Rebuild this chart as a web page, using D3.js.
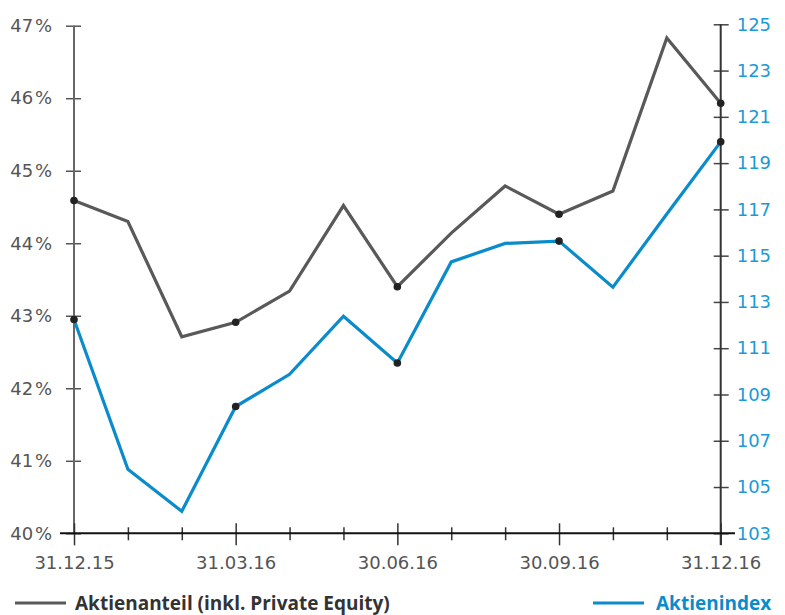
<!DOCTYPE html>
<html>
<head>
<meta charset="utf-8">
<script src="https://cdn.jsdelivr.net/npm/d3@7"></script>
<style>
  body { margin: 0; background: #fff; }
  text { font-family: "DejaVu Sans", sans-serif; }
  .legendText { font-family: "Open Sans", "Noto Sans", sans-serif; }
</style>
</head>
<body>
<div id="chart"></div>
<script>
// month-end dates, only every third one is labelled
var dates = ["31.12.15", "", "", "31.03.16", "", "", "30.06.16", "", "", "30.09.16", "", "", "31.12.16"];
var shareValues = [44.59, 44.30, 42.71, 42.91, 43.34, 44.52, 43.40, 44.14, 44.79, 44.40, 44.72, 46.83, 45.93];
var indexValues = [112.24, 105.77, 103.95, 108.48, 109.87, 112.38, 110.36, 114.73, 115.53, 115.63, 113.64, 116.8, 119.92];
var leftTicks = [40, 41, 42, 43, 44, 45, 46, 47];
var rightTicks = [103, 105, 107, 109, 111, 113, 115, 117, 119, 121, 123, 125];
var markedIdx = [0, 3, 6, 9, 12];

var width = 785;
var height = 615;
var grey = "#595959";
var blue = "#0a8ccc";

var svg = d3.select("#chart")
  .append("svg")
  .attr("width", width)
  .attr("height", height);

var xScale = d3.scaleLinear().domain([0, 12]).range([74, 720.7]);
var yLeft = d3.scaleLinear().domain([40, 47]).range([533.3, 25.7]);
var yRight = d3.scaleLinear().domain([103, 125]).range([533.3, 24.3]);

// left axis
var leftAxis = d3.axisLeft(yLeft)
  .tickValues(leftTicks)
  .tickSize(0)
  .tickPadding(22)
  .tickFormat(function(d) { return d + "\u200a%"; });
var gL = svg.append("g").attr("transform", "translate(74,0)").call(leftAxis);
gL.select(".domain").remove();
gL.append("line")
  .attr("y1", yLeft(47)).attr("y2", yLeft(40))
  .attr("stroke", "#666").attr("stroke-width", 2);
gL.selectAll(".tick").append("line")
  .attr("x1", -8).attr("x2", 7)
  .attr("stroke", "#555").attr("stroke-width", 1.5);
gL.selectAll(".tick text")
  .attr("fill", "#555")
  .attr("font-size", 18);

// right axis
var rightAxis = d3.axisRight(yRight)
  .tickValues(rightTicks)
  .tickSize(0)
  .tickPadding(16);
var gR = svg.append("g").attr("transform", "translate(720.7,0)").call(rightAxis);
gR.select(".domain").remove();
gR.append("line")
  .attr("y1", yRight(125)).attr("y2", 545)
  .attr("stroke", "#333").attr("stroke-width", 2);
gR.selectAll(".tick").append("line")
  .attr("x1", -7).attr("x2", 8)
  .attr("stroke", "#444").attr("stroke-width", 1.5);
gR.selectAll(".tick text")
  .attr("fill", "#1b9ad6")
  .attr("font-size", 18);

// x axis
var xAxis = d3.axisBottom(xScale)
  .tickValues(d3.range(0, 13))
  .tickSize(0)
  .tickPadding(23)
  .tickFormat(function(d) { return dates[d]; });
var gX = svg.append("g").attr("transform", "translate(0,533.3)").call(xAxis);
gX.select(".domain").remove();
gX.append("line")
  .attr("x1", 60).attr("x2", 735)
  .attr("stroke", "#111").attr("stroke-width", 2);
gX.selectAll(".tick").append("line")
  .attr("y1", function(d) { return dates[d] ? -10 : -6; })
  .attr("y2", function(d) { return dates[d] ? 12 : 7; })
  .attr("stroke", "#333").attr("stroke-width", 1.5);
gX.selectAll(".tick text")
  .attr("fill", "#555")
  .attr("font-size", 18);

// lines
var shareLine = d3.line()
  .x(function(d, i) { return xScale(i); })
  .y(function(d) { return yLeft(d); });
var indexLine = d3.line()
  .x(function(d, i) { return xScale(i); })
  .y(function(d) { return yRight(d); });

svg.append("path")
  .datum(shareValues)
  .attr("d", shareLine)
  .attr("fill", "none")
  .attr("stroke", grey)
  .attr("stroke-width", 3.2);

svg.append("path")
  .datum(indexValues)
  .attr("d", indexLine)
  .attr("fill", "none")
  .attr("stroke", blue)
  .attr("stroke-width", 3.2);

// dots on quarter ends
svg.selectAll(".shareDot")
  .data(markedIdx)
  .enter()
  .append("circle")
  .attr("class", "shareDot")
  .attr("cx", function(i) { return xScale(i); })
  .attr("cy", function(i) { return yLeft(shareValues[i]); })
  .attr("r", 3.8)
  .attr("fill", "#222");

svg.selectAll(".indexDot")
  .data(markedIdx)
  .enter()
  .append("circle")
  .attr("class", "indexDot")
  .attr("cx", function(i) { return xScale(i); })
  .attr("cy", function(i) { return yRight(indexValues[i]); })
  .attr("r", 3.8)
  .attr("fill", "#222");

// legend
var legend = svg.append("g");
legend.append("line")
  .attr("x1", 15).attr("x2", 66).attr("y1", 603).attr("y2", 603)
  .attr("stroke", grey).attr("stroke-width", 3);
legend.append("text")
  .attr("class", "legendText")
  .attr("x", 75).attr("y", 610)
  .attr("font-size", 19)
  .attr("font-weight", "bold")
  .attr("fill", "#333")
  .text("Aktienanteil (inkl. Private Equity)");
legend.append("line")
  .attr("x1", 593).attr("x2", 644).attr("y1", 603).attr("y2", 603)
  .attr("stroke", blue).attr("stroke-width", 3);
legend.append("text")
  .attr("class", "legendText")
  .attr("x", 656).attr("y", 610)
  .attr("font-size", 19)
  .attr("font-weight", "bold")
  .attr("fill", blue)
  .text("Aktienindex");
</script>
</body>
</html>
